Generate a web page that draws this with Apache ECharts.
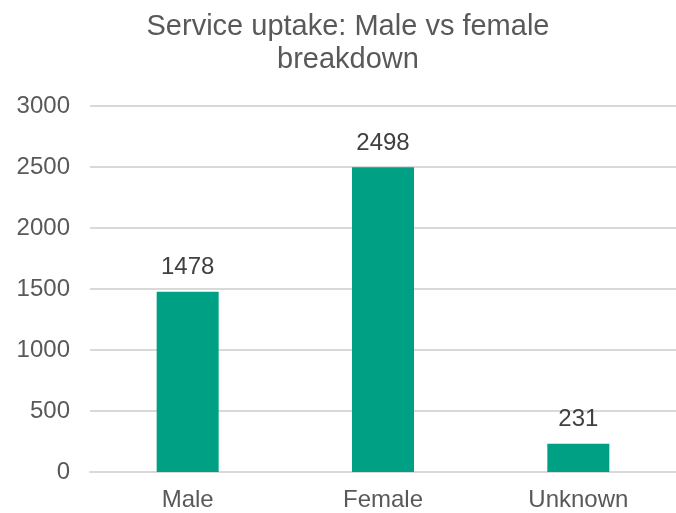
<!DOCTYPE html>
<html><head><meta charset="utf-8">
<script src="https://cdn.jsdelivr.net/npm/echarts@6/dist/echarts.min.js"></script>
<style>html,body{margin:0;padding:0;background:#fff}#c{width:676px;height:513px}</style>
</head><body><div id="c"></div>
<script>
const categories = ['Male', 'Female', 'Unknown'];
const uptake = [1478, 2498, 231];
const yTicks = [0, 500, 1000, 1500, 2000, 2500, 3000];

const chart = echarts.init(document.getElementById('c'), null, {renderer: 'canvas'});
const font = '"Liberation Sans", Arial, sans-serif';
chart.setOption({
  animation: false,
  title: {
    text: 'Service uptake: Male vs female\nbreakdown',
    left: 343, top: 5, textAlign: 'center',
    textStyle: {color: '#595959', fontSize: 29, fontWeight: 'normal', fontFamily: font, lineHeight: 33}
  },
  grid: {left: 90, width: 593, top: 106, bottom: 41, containLabel: false},
  xAxis: {
    type: 'category', data: categories,
    axisLine: {lineStyle: {color: '#d9d9d9', width: 2}},
    axisTick: {show: false},
    axisLabel: {color: '#595959', fontSize: 24, fontFamily: font, margin: 16}
  },
  yAxis: {
    type: 'value', min: yTicks[0], max: yTicks[yTicks.length - 1], interval: 500,
    axisLine: {show: false}, axisTick: {show: false},
    splitLine: {lineStyle: {color: '#d9d9d9', width: 2}},
    axisLabel: {color: '#595959', fontSize: 24, fontFamily: font, margin: 20, formatter: v => String(v)}
  },
  series: [{
    type: 'bar', data: uptake, barWidth: 62,
    itemStyle: {color: '#00A084'},
    label: {show: true, position: 'top', distance: 12, color: '#404040', fontSize: 24, fontFamily: font}
  }]
});
</script></body></html>
